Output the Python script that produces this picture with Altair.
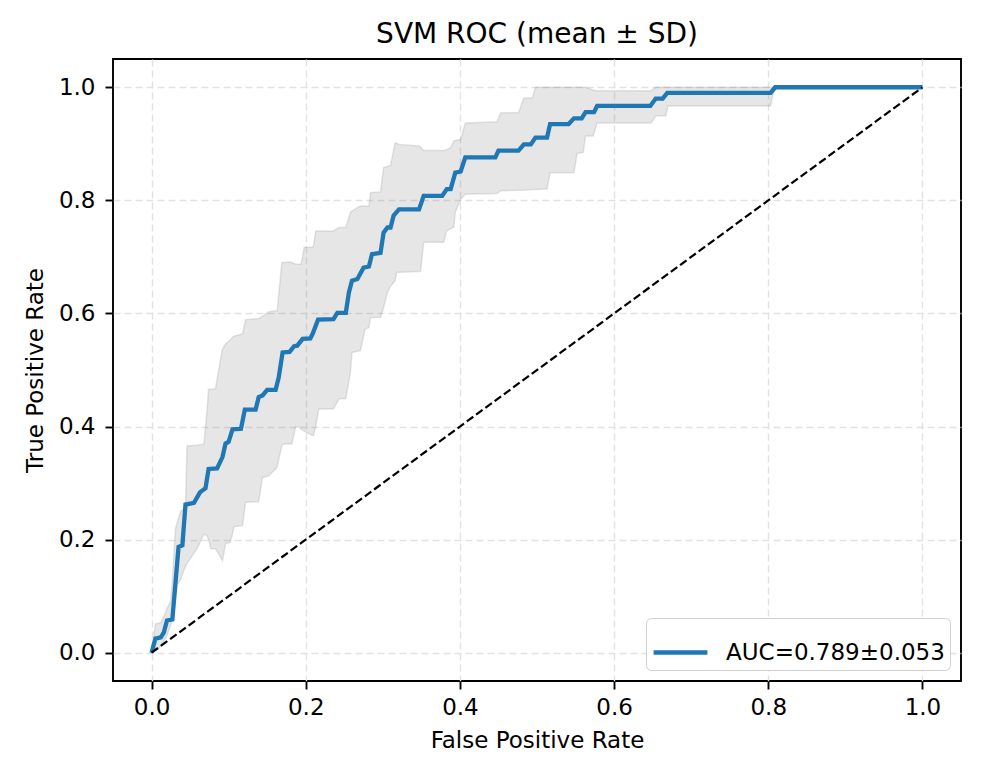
import altair as alt
import pandas as pd

TITLE = "SVM ROC (mean ± SD)"
LEGEND_LABEL = "AUC=0.789±0.053"

# mean ROC curve
mean_fpr = [0.000, 0.005, 0.012, 0.016, 0.020, 0.027, 0.035, 0.040, 0.044, 0.055,
            0.063, 0.070, 0.074, 0.085, 0.092, 0.096, 0.100, 0.105, 0.116, 0.121,
            0.135, 0.139, 0.144, 0.150, 0.161, 0.165, 0.170, 0.179, 0.185, 0.189,
            0.196, 0.206, 0.209, 0.216, 0.236, 0.241, 0.252, 0.256, 0.260, 0.267,
            0.275, 0.282, 0.286, 0.297, 0.301, 0.306, 0.310, 0.314, 0.321, 0.347,
            0.353, 0.377, 0.383, 0.388, 0.394, 0.401, 0.407, 0.446, 0.450, 0.476,
            0.483, 0.492, 0.498, 0.513, 0.517, 0.541, 0.548, 0.558, 0.563, 0.574,
            0.578, 0.647, 0.654, 0.663, 0.669, 0.803, 0.809, 1.000]
mean_tpr = [0.000, 0.025, 0.027, 0.036, 0.057, 0.059, 0.187, 0.190, 0.262, 0.265,
            0.284, 0.291, 0.325, 0.326, 0.346, 0.370, 0.373, 0.395, 0.396, 0.430,
            0.430, 0.452, 0.455, 0.465, 0.465, 0.487, 0.531, 0.532, 0.542, 0.543,
            0.555, 0.556, 0.564, 0.589, 0.590, 0.601, 0.601, 0.637, 0.658, 0.661,
            0.681, 0.683, 0.705, 0.707, 0.743, 0.752, 0.752, 0.773, 0.784, 0.784,
            0.808, 0.808, 0.820, 0.820, 0.849, 0.851, 0.876, 0.876, 0.888, 0.888,
            0.899, 0.899, 0.911, 0.911, 0.935, 0.935, 0.945, 0.945, 0.956, 0.956,
            0.967, 0.967, 0.980, 0.980, 0.990, 0.990, 1.000, 1.000]

# ± SD band
band_fpr = [0.000, 0.005, 0.009, 0.012, 0.018, 0.020, 0.025, 0.027, 0.031, 0.033,
            0.038, 0.042, 0.044, 0.046, 0.050, 0.059, 0.068, 0.072, 0.074, 0.077,
            0.083, 0.087, 0.092, 0.096, 0.102, 0.105, 0.107, 0.118, 0.122, 0.139,
            0.144, 0.152, 0.161, 0.163, 0.169, 0.171, 0.180, 0.182, 0.187, 0.191,
            0.194, 0.198, 0.200, 0.209, 0.210, 0.213, 0.217, 0.236, 0.243, 0.252,
            0.258, 0.260, 0.267, 0.271, 0.277, 0.282, 0.284, 0.297, 0.301, 0.306,
            0.310, 0.316, 0.318, 0.321, 0.347, 0.349, 0.353, 0.379, 0.383, 0.388,
            0.392, 0.394, 0.401, 0.407, 0.448, 0.453, 0.476, 0.483, 0.494, 0.498,
            0.513, 0.517, 0.548, 0.552, 0.560, 0.563, 0.573, 0.578, 0.648, 0.654,
            0.667, 0.670, 0.803, 0.808, 1.000]
band_low = [0.000, 0.004, 0.007, 0.012, 0.025, 0.030, 0.050, 0.060, 0.095, 0.119,
            0.130, 0.146, 0.152, 0.158, 0.166, 0.184, 0.210, 0.207, 0.200, 0.184,
            0.184, 0.175, 0.163, 0.193, 0.195, 0.210, 0.223, 0.225, 0.266, 0.267,
            0.310, 0.313, 0.325, 0.330, 0.366, 0.369, 0.369, 0.369, 0.400, 0.399,
            0.395, 0.392, 0.390, 0.384, 0.384, 0.400, 0.431, 0.431, 0.449, 0.449,
            0.496, 0.531, 0.533, 0.534, 0.572, 0.575, 0.593, 0.593, 0.610, 0.637,
            0.648, 0.658, 0.673, 0.673, 0.674, 0.674, 0.726, 0.726, 0.746, 0.750,
            0.752, 0.779, 0.802, 0.811, 0.812, 0.817, 0.818, 0.818, 0.819, 0.819,
            0.820, 0.849, 0.849, 0.883, 0.885, 0.914, 0.914, 0.937, 0.937, 0.949,
            0.949, 0.967, 0.967, 1.000, 1.000]
band_high = [0.000, 0.051, 0.052, 0.053, 0.070, 0.078, 0.092, 0.130, 0.219, 0.230,
             0.251, 0.253, 0.254, 0.366, 0.366, 0.367, 0.369, 0.430, 0.466, 0.466,
             0.467, 0.500, 0.537, 0.546, 0.553, 0.558, 0.560, 0.564, 0.589, 0.591,
             0.595, 0.603, 0.605, 0.605, 0.690, 0.690, 0.691, 0.690, 0.687, 0.687,
             0.687, 0.717, 0.717, 0.717, 0.720, 0.746, 0.746, 0.746, 0.752, 0.752,
             0.779, 0.781, 0.787, 0.790, 0.790, 0.790, 0.814, 0.815, 0.858, 0.860,
             0.862, 0.902, 0.901, 0.899, 0.896, 0.894, 0.888, 0.888, 0.890, 0.893,
             0.905, 0.906, 0.908, 0.937, 0.939, 0.955, 0.955, 0.981, 0.981, 1.000,
             1.000, 1.000, 1.000, 1.000, 1.000, 1.000, 0.995, 0.994, 0.994, 1.000,
             1.000, 1.000, 1.000, 1.000, 1.000]

diag = [0.0, 1.0]
ticks = [0.0, 0.2, 0.4, 0.6, 0.8, 1.0]

mean_df = pd.DataFrame({"fpr": mean_fpr, "tpr": mean_tpr, "series": LEGEND_LABEL})
band_df = pd.DataFrame({"fpr": band_fpr, "low": band_low, "high": band_high})
diag_df = pd.DataFrame({"fpr": diag, "tpr": diag})

FONT = "DejaVu Sans"
FS = 23
xscale = alt.Scale(domain=[-0.05, 1.05], nice=False, zero=False)
yscale = alt.Scale(domain=[-0.05, 1.05], nice=False, zero=False)

xaxis = alt.Axis(title="False Positive Rate", values=ticks, format=".1f",
                 labelPadding=7, titlePadding=10)
yaxis = alt.Axis(title="True Positive Rate", values=ticks, format=".1f",
                 labelPadding=10, titlePadding=11)

band = alt.Chart(band_df).mark_area(
    fill="#808080", fillOpacity=0.2, stroke="#808080", strokeOpacity=0.2, strokeWidth=1.5
).encode(
    x=alt.X("fpr:Q", scale=xscale, axis=xaxis),
    y=alt.Y("low:Q", scale=yscale, axis=yaxis),
    y2="high:Q",
)

mean_line = alt.Chart(mean_df).mark_line(strokeWidth=4.3, interpolate="linear").encode(
    x=alt.X("fpr:Q", scale=xscale),
    y=alt.Y("tpr:Q", scale=yscale),
    color=alt.Color(
        "series:N",
        scale=alt.Scale(domain=[LEGEND_LABEL], range=["#1f77b4"]),
        legend=alt.Legend(
            title=None, orient="bottom-right", offset=11,
            symbolType="stroke", symbolStrokeWidth=4.3, symbolSize=2900,
            labelFontSize=FS, labelFont=FONT, labelColor="black", labelOffset=16,
            labelLimit=500, padding=5, strokeColor="#d0d0d0", fillColor="white",
            cornerRadius=5,
        ),
    ),
)

diag_line = alt.Chart(diag_df).mark_line(
    color="black", strokeWidth=2.2, strokeDash=[8, 3.5]
).encode(
    x=alt.X("fpr:Q", scale=xscale),
    y=alt.Y("tpr:Q", scale=yscale),
)

chart = alt.layer(band, mean_line, diag_line).properties(
    width=848,
    height=622,
    autosize=alt.AutoSizeParams(type="none"),
    padding={"left": 105, "top": 51, "right": 17, "bottom": 92},
    title=alt.TitleParams(TITLE, fontSize=28, font=FONT, fontWeight="normal",
                          color="black", anchor="middle", frame="group",
                          offset=8, baseline="bottom", dy=26),
).configure_view(
    stroke="black", strokeWidth=1.9
).configure_axis(
    labelFont=FONT, titleFont=FONT, labelFontSize=FS, titleFontSize=FS,
    labelColor="black", titleColor="black", titleFontWeight="normal",
    tickColor="black", tickSize=8, tickWidth=1.9, domain=False,
    grid=True, gridColor="#e2e2e2", gridDash=[7, 4], gridWidth=1.4,
)

chart.save("out.html", embed_options={"renderer": "svg", "actions": False})
